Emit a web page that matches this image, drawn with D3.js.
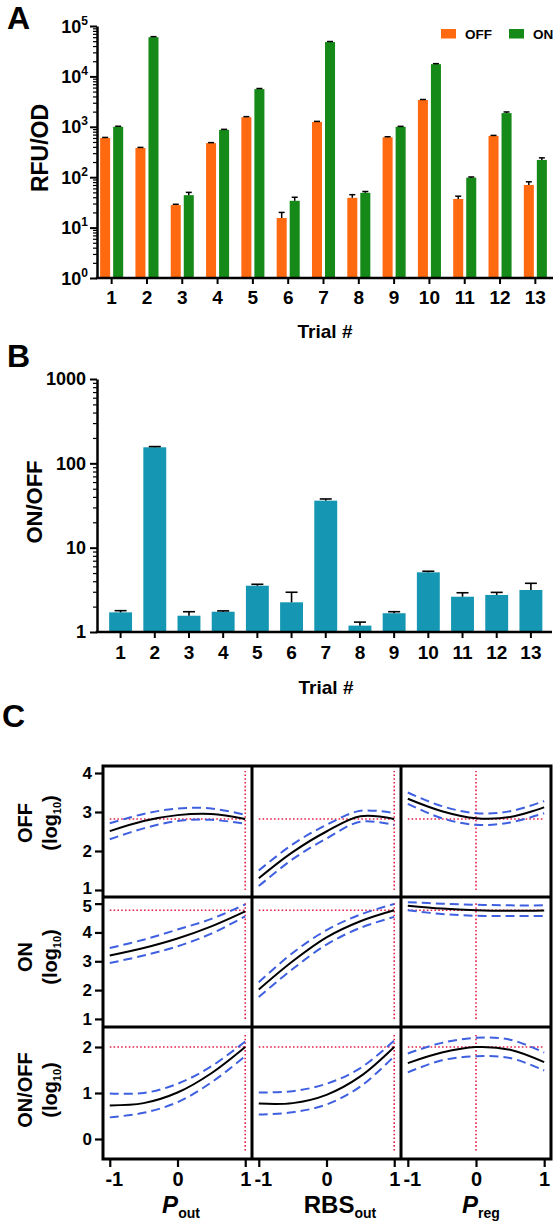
<!DOCTYPE html>
<html><head><meta charset="utf-8">
<script src="https://cdn.jsdelivr.net/npm/d3@7"></script>
<style>
body{margin:0;background:#fff;}
svg text{font-family:"Liberation Sans",Arial,Helvetica,sans-serif;font-weight:bold;fill:#000;}
</style></head><body>
<svg id="c" width="555" height="1221"></svg>
<script>
// ---------------- DATA ----------------
const trials = ["1","2","3","4","5","6","7","8","9","10","11","12","13"];
const seriesNames = ["OFF","ON"];
const offValues = [600, 380, 28, 475, 1550, 15.5, 1250, 39, 620, 3400, 37, 660, 70];
const offErrors = [15, 10, 1, 10, 40, 4.5, 30, 6, 15, 80, 5, 15, 11];
const onValues  = [1000, 60000, 44, 870, 5600, 34, 48000, 49, 1000, 17500, 98, 1870, 220];
const onErrors  = [25, 1500, 6, 20, 150, 6, 1200, 3, 20, 400, 3, 100, 22];
const ratioValues = [1.71, 155, 1.56, 1.74, 3.54, 2.25, 36.1, 1.19, 1.67, 5.1, 2.62, 2.75, 3.15];
const ratioErrors = [0.08, 3, 0.18, 0.04, 0.14, 0.71, 1.7, 0.12, 0.07, 0.15, 0.3, 0.2, 0.63];
const aTickBase = "10";
const aTickExps = ["0","1","2","3","4","5"];
const bTickValues = [1, 10, 100, 1000];
const bTickLabels = ["1","10","100","1000"];

// Panel C
const factorX = [-1, -0.5, 0, 0.5, 1];
const factorTicks = [-1, 0, 1];
const factorTickLabels = ["-1","0","1"];
const colMain = ["P","RBS","P"];
const colSub = ["out","out","reg"];
const colItalic = [true,false,true];
const rowMain = ["OFF","ON","ON/OFF"];
const rowTicks = [[1,2,3,4],[1,2,3,4,5],[0,1,2]];
const optimumX = [1, 1, 0];
const optimumY = [2.82, 4.77, 2.0];
const refVLo = [1, 1, -0.25];
const refVHi = [4.05, 5.02, 2.27];

const offPoutFit = [2.51, 2.77, 2.92, 2.95, 2.82];
const offPoutHi  = [2.71, 2.95, 3.09, 3.09, 2.93];
const offPoutLo  = [2.30, 2.58, 2.77, 2.80, 2.70];
const offRbsFit  = [1.30, 1.97, 2.50, 2.89, 2.82];
const offRbsHi   = [1.50, 2.17, 2.67, 3.03, 2.97];
const offRbsLo   = [1.10, 1.79, 2.32, 2.75, 2.67];
const offPregFit = [3.34, 3.02, 2.84, 2.87, 3.12];
const offPregHi  = [3.50, 3.15, 2.97, 3.02, 3.28];
const offPregLo  = [3.21, 2.84, 2.67, 2.73, 2.97];
const onPoutFit  = [3.20, 3.46, 3.79, 4.21, 4.73];
const onPoutHi   = [3.46, 3.75, 4.10, 4.47, 4.97];
const onPoutLo   = [2.94, 3.20, 3.52, 3.96, 4.56];
const onRbsFit   = [2.02, 3.00, 3.83, 4.39, 4.77];
const onRbsHi    = [2.27, 3.29, 4.08, 4.62, 4.99];
const onRbsLo    = [1.76, 2.73, 3.58, 4.16, 4.54];
const onPregFit  = [4.93, 4.83, 4.77, 4.75, 4.76];
const onPregHi   = [5.05, 5.00, 4.96, 4.94, 4.94];
const onPregLo   = [4.77, 4.64, 4.58, 4.57, 4.57];
const ratioPoutFit = [0.73, 0.78, 1.01, 1.43, 2.00];
const ratioPoutHi  = [0.99, 1.00, 1.20, 1.58, 2.12];
const ratioPoutLo  = [0.47, 0.57, 0.80, 1.23, 1.80];
const ratioRbsFit  = [0.77, 0.78, 0.96, 1.36, 2.00];
const ratioRbsHi   = [1.01, 1.04, 1.20, 1.54, 2.14];
const ratioRbsLo   = [0.53, 0.58, 0.75, 1.14, 1.80];
const ratioPregFit = [1.65, 1.88, 2.00, 1.94, 1.67];
const ratioPregHi  = [1.86, 2.09, 2.20, 2.16, 1.88];
const ratioPregLo  = [1.45, 1.71, 1.80, 1.76, 1.49];

// ---------------- DRAW ----------------
const svg = d3.select("#c");
const colors = {OFF:"#FF6A10", ON:"#158A18"};
const teal = "#1597B3";
const blue = "#3D5FE0";
const red = "#E6204C";

function minorTicks(maxExp){
  const out=[];
  for(let e=0;e<maxExp;e++) for(let m=2;m<=9;m++) out.push(m*Math.pow(10,e));
  return out;
}
function styleAxis(g){
  g.select(".domain").attr("stroke","#000").attr("stroke-width",2.5);
  g.selectAll(".tick line").attr("stroke","#000").attr("stroke-width",2);
}

// Panel letters
svg.append("text").attr("x",7).attr("y",29).attr("font-size",32).text("A");
svg.append("text").attr("x",7).attr("y",367).attr("font-size",32).text("B");
svg.append("text").attr("x",2).attr("y",727).attr("font-size",32).text("C");

// ===== Panel A =====
const aX = d3.scaleBand().domain(trials).range([94, 553]);
const aSub = d3.scaleBand().domain(seriesNames).range([0, aX.bandwidth()]).paddingInner(0.23).paddingOuter(0.47);
const aY = d3.scaleLog().domain([1, 1e5]).range([278, 26]);
const aG = svg.append("g");
const aVals = [offValues, onValues], aErrs = [offErrors, onErrors];
seriesNames.forEach((s, si) => {
  const g = aG.append("g");
  g.selectAll("rect").data(trials).join("rect")
    .attr("x", t => aX(t) + aSub(s))
    .attr("width", aSub.bandwidth())
    .attr("y", (t,i) => aY(aVals[si][i]))
    .attr("height", (t,i) => aY(1) - aY(aVals[si][i]))
    .attr("fill", colors[s]);
  const eg = g.append("g").attr("stroke","#000").attr("stroke-width",1.5);
  trials.forEach((t,i) => {
    const cx = aX(t) + aSub(s) + aSub.bandwidth()/2;
    const y0 = aY(aVals[si][i]), y1 = aY(aVals[si][i] + aErrs[si][i]);
    eg.append("line").attr("x1",cx).attr("x2",cx).attr("y1",y0).attr("y2",y1);
    eg.append("line").attr("x1",cx-3).attr("x2",cx+3).attr("y1",y1).attr("y2",y1);
  });
});
// y axis A
const aMinor = aG.append("g").attr("transform","translate(97,0)")
  .call(d3.axisLeft(aY).tickValues(minorTicks(5)).tickSize(4).tickFormat(""));
aMinor.select(".domain").remove();
aMinor.selectAll(".tick line").attr("stroke","#000").attr("stroke-width",1.2);
const aYAxis = aG.append("g").attr("transform","translate(97,0)")
  .call(d3.axisLeft(aY).tickValues(aTickExps.map(e=>Math.pow(10,+e))).tickSize(7).tickSizeOuter(0).tickFormat(""));
styleAxis(aYAxis);
aTickExps.forEach(e => {
  const y = aY(Math.pow(10,+e));
  const t = aG.append("text").attr("x",88).attr("y",y+6.5).attr("text-anchor","end").attr("font-size",18);
  t.append("tspan").text(aTickBase);
  t.append("tspan").attr("font-size",12).attr("dy",-8).text(e);
});
// x axis A
const aXAxis = aG.append("g").attr("transform","translate(0,278)")
  .call(d3.axisBottom(aX).tickSize(6).tickSizeOuter(0).tickPadding(7));
aXAxis.select(".domain").remove();
aXAxis.selectAll(".tick line").attr("stroke","#000").attr("stroke-width",2);
aXAxis.selectAll(".tick text").attr("font-size",19).attr("font-family",null);
aG.append("line").attr("x1",95.75).attr("x2",553).attr("y1",278).attr("y2",278).attr("stroke","#000").attr("stroke-width",2.5);
aG.append("text").attr("transform","translate(48,148) rotate(-90)").attr("text-anchor","middle").attr("font-size",23).text("RFU/OD");
aG.append("text").attr("x",325).attr("y",338).attr("text-anchor","middle").attr("font-size",19).text("Trial #");
// legend
const leg = aG.append("g");
const legX = [441, 509];
seriesNames.forEach((s,i) => {
  leg.append("rect").attr("x",legX[i]).attr("y",29).attr("width",15).attr("height",9.5).attr("fill",colors[s]);
  leg.append("text").attr("x",legX[i]+24).attr("y",38.5).attr("font-size",13.5).text(s);
});

// ===== Panel B =====
const bX = d3.scaleBand().domain(trials).range([103.5, 548]).paddingInner(0.33).paddingOuter(0.165);
const bY = d3.scaleLog().domain([1, 1000]).range([632, 379]);
const bG = svg.append("g");
bG.append("g").selectAll("rect").data(trials).join("rect")
  .attr("x", t => bX(t)).attr("width", bX.bandwidth())
  .attr("y", (t,i) => bY(ratioValues[i]))
  .attr("height", (t,i) => bY(1) - bY(ratioValues[i]))
  .attr("fill", teal);
const bEg = bG.append("g").attr("stroke","#000").attr("stroke-width",1.6);
trials.forEach((t,i) => {
  const cx = bX(t) + bX.bandwidth()/2;
  const y0 = bY(ratioValues[i]), y1 = bY(ratioValues[i] + ratioErrors[i]);
  bEg.append("line").attr("x1",cx).attr("x2",cx).attr("y1",y0).attr("y2",y1);
  bEg.append("line").attr("x1",cx-6).attr("x2",cx+6).attr("y1",y1).attr("y2",y1);
});
const bMinor = bG.append("g").attr("transform","translate(97,0)")
  .call(d3.axisLeft(bY).tickValues(minorTicks(3)).tickSize(4).tickFormat(""));
bMinor.select(".domain").remove();
bMinor.selectAll(".tick line").attr("stroke","#000").attr("stroke-width",1.2);
const bYAxis = bG.append("g").attr("transform","translate(97,0)")
  .call(d3.axisLeft(bY).tickValues(bTickValues).tickSize(7).tickSizeOuter(0).tickPadding(4)
    .tickFormat((d,i) => bTickLabels[i]));
styleAxis(bYAxis);
bYAxis.selectAll(".tick text").attr("font-size",18).attr("font-family",null);
const bXAxis = bG.append("g").attr("transform","translate(0,632)")
  .call(d3.axisBottom(bX).tickSize(6).tickSizeOuter(0).tickPadding(8));
bXAxis.select(".domain").remove();
bXAxis.selectAll(".tick line").attr("stroke","#000").attr("stroke-width",2);
bXAxis.selectAll(".tick text").attr("font-size",19).attr("font-family",null);
bG.append("line").attr("x1",95.75).attr("x2",552).attr("y1",632).attr("y2",632).attr("stroke","#000").attr("stroke-width",2.5);
bG.append("text").attr("transform","translate(42,502) rotate(-90)").attr("text-anchor","middle").attr("font-size",22).text("ON/OFF");
bG.append("text").attr("x",326).attr("y",694).attr("text-anchor","middle").attr("font-size",19).text("Trial #");

// ===== Panel C =====
const colEdges = [103, 252, 401, 551];
const rowEdges = [766, 897, 1027, 1159];
const rowDomains = [[0.82, 4.18], [0.72, 5.23], [-0.435, 2.435]];
const colScales = [0,1,2].map(c => d3.scaleLinear().domain([-1.1, 1.1]).range([colEdges[c], colEdges[c+1]]));
const rowScales = [0,1,2].map(r => d3.scaleLinear().domain(rowDomains[r]).range([rowEdges[r+1], rowEdges[r]]));
const fits = [[offPoutFit, offRbsFit, offPregFit],[onPoutFit, onRbsFit, onPregFit],[ratioPoutFit, ratioRbsFit, ratioPregFit]];
const his  = [[offPoutHi, offRbsHi, offPregHi],[onPoutHi, onRbsHi, onPregHi],[ratioPoutHi, ratioRbsHi, ratioPregHi]];
const los  = [[offPoutLo, offRbsLo, offPregLo],[onPoutLo, onRbsLo, onPregLo],[ratioPoutLo, ratioRbsLo, ratioPregLo]];
const cG = svg.append("g");
for (let r=0;r<3;r++){
  for (let c=0;c<3;c++){
    const xs = colScales[c], ys = rowScales[r];
    const cell = cG.append("g");
    cell.append("line").attr("x1",xs(-1)).attr("x2",xs(1)).attr("y1",ys(optimumY[r])).attr("y2",ys(optimumY[r]))
      .attr("stroke",red).attr("stroke-width",1.6).attr("stroke-dasharray","1.6,2.2");
    cell.append("line").attr("x1",xs(optimumX[c])).attr("x2",xs(optimumX[c])).attr("y1",ys(refVLo[r])).attr("y2",ys(refVHi[r]))
      .attr("stroke",red).attr("stroke-width",1.6).attr("stroke-dasharray","1.6,2.2");
    const line = d3.line().x((d,i)=>xs(factorX[i])).y(d=>ys(d)).curve(d3.curveCatmullRom.alpha(0.5));
    [his[r][c], los[r][c]].forEach(arr => {
      cell.append("path").attr("d", line(arr)).attr("fill","none").attr("stroke",blue)
        .attr("stroke-width",2).attr("stroke-dasharray","9,5");
    });
    cell.append("path").attr("d", line(fits[r][c])).attr("fill","none").attr("stroke","#000").attr("stroke-width",2);
  }
  const ya = cG.append("g").attr("transform","translate(103,0)")
    .call(d3.axisLeft(rowScales[r]).tickValues(rowTicks[r]).tickSize(8).tickSizeOuter(0).tickPadding(3).tickFormat(d=>String(d)));
  ya.select(".domain").remove();
  ya.selectAll(".tick line").attr("stroke","#000").attr("stroke-width",2.2);
  const last = rowTicks[r].length - 1;
  ya.selectAll(".tick text").attr("font-size",17).attr("font-family",null)
    .attr("dy",(d,i)=> (r===0 && i===0) ? "0.2em" : (r===1 && i===last) ? "0.45em" : "0.32em");
}
// frame
const frame = cG.append("g").attr("stroke","#000").attr("stroke-width",3).attr("fill","none");
frame.append("rect").attr("x",colEdges[0]).attr("y",rowEdges[0]).attr("width",colEdges[3]-colEdges[0]).attr("height",rowEdges[3]-rowEdges[0]);
[colEdges[1], colEdges[2]].forEach(x => frame.append("line").attr("x1",x).attr("x2",x).attr("y1",rowEdges[0]).attr("y2",rowEdges[3]));
[rowEdges[1], rowEdges[2]].forEach(y => frame.append("line").attr("x1",colEdges[0]).attr("x2",colEdges[3]).attr("y1",y).attr("y2",y));
// x axes
const colLabelX = [181, 340, 481];
for (let c=0;c<3;c++){
  const xa = cG.append("g").attr("transform",`translate(0,${rowEdges[3]})`)
    .call(d3.axisBottom(colScales[c]).tickValues(factorTicks).tickSize(8).tickSizeOuter(0).tickPadding(5)
      .tickFormat((d,i)=>factorTickLabels[i]));
  xa.select(".domain").remove();
  xa.selectAll(".tick line").attr("stroke","#000").attr("stroke-width",2.2);
  xa.selectAll(".tick text").attr("font-size",20).attr("font-family",null)
    .attr("dx",(d)=> d < 0 ? 4 : 0);
  const t = cG.append("text").attr("x",colLabelX[c]).attr("y",1213).attr("text-anchor","middle").attr("font-size",24);
  t.append("tspan").attr("font-style", colItalic[c] ? "italic" : "normal").text(colMain[c]);
  t.append("tspan").attr("font-size",14).attr("dy",5).text(colSub[c]);
}
// row labels
const rowLabelY = [823, 957, 1090];
for (let r=0;r<3;r++){
  cG.append("text").attr("transform",`translate(32,${rowLabelY[r]}) rotate(-90)`).attr("text-anchor","middle")
    .attr("font-size",20).text(rowMain[r]);
  const t = cG.append("text").attr("transform",`translate(57,${rowLabelY[r]}) rotate(-90)`).attr("text-anchor","middle")
    .attr("font-size",20);
  t.append("tspan").text("(log");
  t.append("tspan").attr("font-size",11).attr("dy",4).text("10");
  t.append("tspan").attr("dy",-4).text(")");
}
</script>
</body></html>
